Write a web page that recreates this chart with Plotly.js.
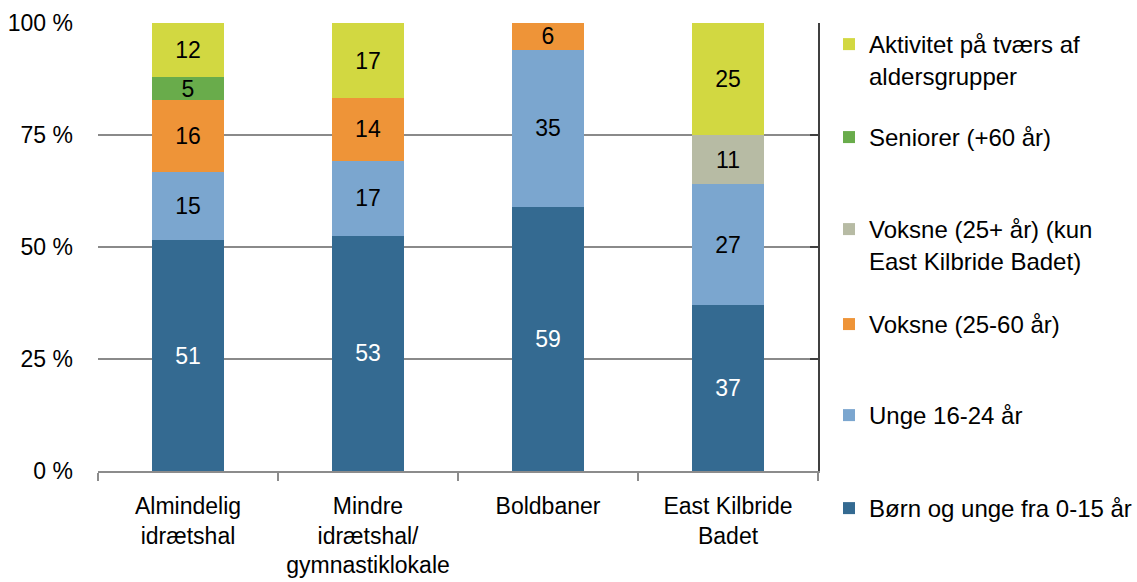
<!DOCTYPE html>
<html>
<head>
<meta charset="utf-8">
<script src="https://cdn.plot.ly/plotly-3.0.1.min.js"></script>
<style>html,body{margin:0;padding:0;background:#fff;} #chart{width:1137px;height:582px;}</style>
</head>
<body>
<div id="chart"></div>
<script>
var categories = ['Almindelig<br>idrætshal', 'Mindre<br>idrætshal/<br>gymnastiklokale', 'Boldbaner', 'East Kilbride<br>Badet'];
var born = [51, 53, 59, 37];
var unge = [15, 17, 35, 27];
var voksne2560 = [16, 14, 6, null];
var voksne25plus = [null, null, null, 11];
var seniorer = [5, null, null, null];
var aktivitet = [12, 17, null, 25];
var yTicks = [0, 25, 50, 75, 100];
var yTickText = ['0 %', '25 %', '50 %', '75 %', '100 %'];

var FONT = 'Liberation Sans, Arial, sans-serif';
var FS = 23;
var LFS = 24;

var seriesDefs = [
  {name: 'Børn og unge fra 0-15 år', y: born, color: '#346A91', tc: '#ffffff', legend: 'legend6'},
  {name: 'Unge 16-24 år', y: unge, color: '#7BA6CF', tc: '#000000', legend: 'legend5'},
  {name: 'Voksne (25-60 år)', y: voksne2560, color: '#EE9438', tc: '#000000', legend: 'legend4'},
  {name: 'Voksne (25+ år) (kun<br>East Kilbride Badet)', y: voksne25plus, color: '#B7BBA4', tc: '#000000', legend: 'legend3'},
  {name: 'Seniorer (+60 år)', y: seniorer, color: '#69AC4B', tc: '#000000', legend: 'legend2'},
  {name: 'Aktivitet på tværs af<br>aldersgrupper', y: aktivitet, color: '#D2D841', tc: '#000000', legend: 'legend'}
];

var traces = seriesDefs.map(function(s){
  return {
    type: 'bar',
    x: categories,
    y: s.y,
    name: s.name,
    legend: s.legend,
    marker: {color: s.color, line: {width: 0}},
    text: s.y.map(function(v){ return v === null ? '' : String(v); }),
    texttemplate: '%{text}',
    textposition: 'inside',
    insidetextanchor: 'middle',
    textangle: 0,
    insidetextfont: {family: FONT, size: FS, color: s.tc},
    hoverinfo: 'skip'
  };
});

// dummy trace to carry the right-hand axis
traces.push({type: 'scatter', x: [categories[0]], y: [0], yaxis: 'y2', mode: 'none', showlegend: false, hoverinfo: 'skip'});

function leg(y){
  return {x: 1.0153, xanchor: 'left', y: y, yanchor: 'top', valign: 'top', bgcolor: 'rgba(0,0,0,0)',
          font: {family: FONT, size: LFS, color: '#000'}, itemclick: false, itemdoubleclick: false};
}

var layout = {
  width: 1137, height: 582,
  margin: {l: 98, r: 319, t: 23, b: 111, autoexpand: false},
  paper_bgcolor: '#fff', plot_bgcolor: '#fff',
  barmode: 'stack', barnorm: 'percent', bargap: 0.6,
  uniformtext: {mode: 'show', minsize: FS},
  font: {family: FONT, size: FS, color: '#000'},
  xaxis: {
    type: 'category', showline: true, linecolor: '#8C8C8C', linewidth: 2,
    ticks: 'outside', tickson: 'boundaries', ticklen: 8, tickcolor: '#8C8C8C', tickwidth: 2,
    ticklabelstandoff: 13, automargin: false,
    showgrid: false, tickfont: {family: FONT, size: FS, color: '#000'}, fixedrange: true
  },
  yaxis: {
    range: [0, 100], tickvals: yTicks, ticktext: yTickText, showgrid: true,
    gridcolor: '#8A8A8A', gridwidth: 2, zeroline: false, showline: false, ticks: '',
    ticklabelstandoff: 24, automargin: false, tickfont: {family: FONT, size: FS, color: '#000'}, fixedrange: true
  },
  yaxis2: {
    overlaying: 'y', side: 'right', range: [0, 100], tickvals: yTicks, showticklabels: false,
    showline: true, linecolor: '#404040', linewidth: 2, ticks: 'inside', ticklen: 8,
    tickcolor: '#404040', tickwidth: 2, showgrid: false, zeroline: false, fixedrange: true
  },
  legend: leg(1.0022),
  legend2: leg(0.7947),
  legend3: leg(0.5893),
  legend4: leg(0.3773),
  legend5: leg(0.1741),
  legend6: leg(-0.0335),
  showlegend: true
};

Plotly.newPlot('chart', traces, layout, {displayModeBar: false, staticPlot: true});
</script>
</body>
</html>
